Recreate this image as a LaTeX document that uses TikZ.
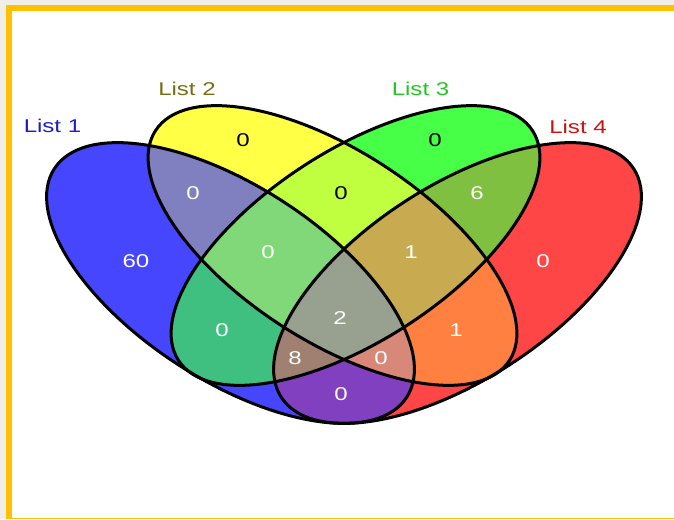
\documentclass[tikz,border=0pt]{standalone}
\usepackage{fontspec}
\setmainfont{Liberation Sans}

% colours
\definecolor{pagebg}{HTML}{EFEEE8}
\definecolor{framegold}{HTML}{FFC000}
\definecolor{oneonly}{HTML}{4646FF}
\definecolor{twoonly}{HTML}{FFFF46}
\definecolor{threeonly}{HTML}{46FF46}
\definecolor{fouronly}{HTML}{FF4646}
\definecolor{onetwo}{HTML}{8080C0}
\definecolor{onethree}{HTML}{40C080}
\definecolor{onefour}{HTML}{8040C0}
\definecolor{twothree}{HTML}{C0FF40}
\definecolor{twofour}{HTML}{FF8040}
\definecolor{threefour}{HTML}{80C040}
\definecolor{onetwothree}{HTML}{80D878}
\definecolor{onetwofour}{HTML}{D88878}
\definecolor{onethreefour}{HTML}{A08070}
\definecolor{twothreefour}{HTML}{C8AA50}
\definecolor{allfour}{HTML}{98A090}
\definecolor{titleone}{HTML}{1E1EC8}
\definecolor{titletwo}{HTML}{786E14}
\definecolor{titlethree}{HTML}{22C822}
\definecolor{titlefour}{HTML}{C81414}

\tikzset{
  list one/.style={shift={(230.5,283)}, rotate=-33, x radius=210, y radius=97},
  list two/.style={shift={(332.5,245.5)}, rotate=-33, x radius=211, y radius=95},
  list three/.style={shift={(355.5,245.5)}, rotate=33, x radius=211, y radius=95},
  list four/.style={shift={(457.5,283)}, rotate=33, x radius=210, y radius=97},
  outline/.style={draw=black, line width=3pt},
  count/.style={font=\fontsize{18.5}{20}\selectfont, xscale=1.3, text=white, inner sep=0pt},
  title/.style={font=\fontsize{18.5}{20}\selectfont, xscale=1.3, inner sep=0pt},
}
\newcommand{\cutto}[1]{\clip[#1] (0,0) circle[];}

\begin{document}
\begin{tikzpicture}[x=1pt, y=-1pt]

    % Frame
    \useasboundingbox (0,0) rectangle (674,519);
    \fill[pagebg] (0,0) rectangle (674,519);
    \fill[framegold] (5.5,5.5) rectangle (674,519);
    \fill[white] (11.5,11.5) rectangle (674,517.5);

    % Single sets
    \fill[oneonly, list one] (0,0) circle[];
    \fill[twoonly, list two] (0,0) circle[];
    \fill[threeonly, list three] (0,0) circle[];
    \fill[fouronly, list four] (0,0) circle[];

    % Two sets
    \begin{scope}\cutto{list one}\fill[onetwo, list two] (0,0) circle[];\end{scope}
    \begin{scope}\cutto{list one}\fill[onethree, list three] (0,0) circle[];\end{scope}
    \begin{scope}\cutto{list one}\fill[onefour, list four] (0,0) circle[];\end{scope}
    \begin{scope}\cutto{list two}\fill[twothree, list three] (0,0) circle[];\end{scope}
    \begin{scope}\cutto{list two}\fill[twofour, list four] (0,0) circle[];\end{scope}
    \begin{scope}\cutto{list three}\fill[threefour, list four] (0,0) circle[];\end{scope}

    % Three sets
    \begin{scope}\cutto{list one}\cutto{list two}\fill[onetwothree, list three] (0,0) circle[];\end{scope}
    \begin{scope}\cutto{list one}\cutto{list two}\fill[onetwofour, list four] (0,0) circle[];\end{scope}
    \begin{scope}\cutto{list one}\cutto{list three}\fill[onethreefour, list four] (0,0) circle[];\end{scope}
    \begin{scope}\cutto{list two}\cutto{list three}\fill[twothreefour, list four] (0,0) circle[];\end{scope}

    % All four
    \begin{scope}\cutto{list one}\cutto{list two}\cutto{list three}\fill[allfour, list four] (0,0) circle[];\end{scope}

    % Outlines
    \path[outline, list one] (0,0) circle[];
    \path[outline, list two] (0,0) circle[];
    \path[outline, list three] (0,0) circle[];
    \path[outline, list four] (0,0) circle[];

    % Set names
    \node[title, text=titleone] (name1) at (52.5,126) {List 1};
    \node[title, text=titletwo] (name2) at (187,89) {List 2};
    \node[title, text=titlethree] (name3) at (420.5,89) {List 3};
    \node[title, text=titlefour] (name4) at (578,127) {List 4};

    % Counts
    \node[count] (c1) at (136,261) {60};
    \node[count, text=black] (c2) at (243,140) {0};
    \node[count, text=black] (c3) at (435,140) {0};
    \node[count] (c4) at (543,261) {0};
    \node[count] (c12) at (193,193) {0};
    \node[count, text=black] (c23) at (341,193) {0};
    \node[count] (c34) at (477,193) {6};
    \node[count] (c123) at (268,252) {0};
    \node[count] (c234) at (411,252) {1};
    \node[count] (c13) at (222,330) {0};
    \node[count] (c1234) at (340,318) {2};
    \node[count] (c24) at (456,330) {1};
    \node[count] (c134) at (295,358) {8};
    \node[count] (c124) at (381,358) {0};
    \node[count] (c14) at (341,394) {0};

\end{tikzpicture}
\end{document}
